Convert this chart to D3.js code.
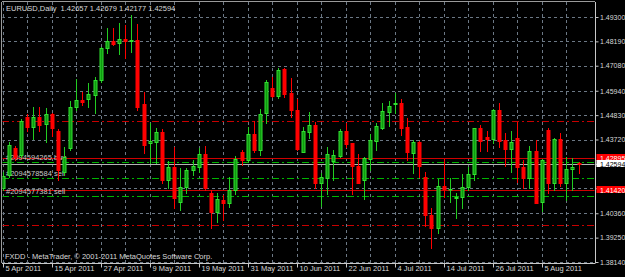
<!DOCTYPE html>
<html>
<head>
<meta charset="utf-8">
<script src="https://cdn.jsdelivr.net/npm/d3@7"></script>
<style>
  html, body { margin: 0; padding: 0; background: #000; overflow: hidden; }
  svg text { font-family: "Liberation Sans", Arial, sans-serif; font-size: 7.5px; }
  svg .paxis text, svg .pbox text { font-size: 7px; }
</style>
</head>
<body>
<div id="chart"></div>
<script>
// daily bars, 5 Apr 2011 onward (one per trading day)
var opens = [1.4151,1.4210,1.4333,1.4301,1.4474,1.4429,1.4474,1.4443,1.4488,1.4411,
  1.4224,1.4333,1.4520,1.4552,1.4556,1.4575,1.4643,1.4789,1.4822,1.4813,
  1.4829,1.4822,1.4825,1.4534,1.4355,1.4362,1.4406,1.4187,1.4247,1.4089,
  1.4156,1.4233,1.4247,1.4306,1.4128,1.4042,1.4096,1.4084,1.4142,1.4317,
  1.4279,1.4397,1.4324,1.4493,1.4608,1.4571,1.4692,1.4585,1.4506,1.4317,
  1.4408,1.4438,1.4174,1.4196,1.4276,1.4297,1.4411,1.4355,1.4251,1.4187,
  1.4282,1.4366,1.4426,1.4499,1.4532,1.4537,1.4428,1.4312,1.4362,1.4202,
  1.4028,1.3970,1.4160,1.4145,1.4104,1.4108,1.4154,1.4213,1.4423,1.4385,
  1.4373,1.4506,1.4370,1.4330,1.4378,1.4248,1.4195,1.4321,1.4089,1.4415,
  1.4173,1.4373,1.4173,1.4236,1.42657];
var highs = [1.4224,1.4361,1.4342,1.4465,1.4488,1.4520,1.4520,1.4515,1.4493,1.4420,
  1.4338,1.4547,1.4648,1.4588,1.4629,1.4657,1.4793,1.4880,1.4880,1.4903,
  1.4894,1.4939,1.4898,1.4588,1.4447,1.4424,1.4420,1.4274,1.4338,1.4242,
  1.4242,1.4279,1.4333,1.4342,1.4142,1.4128,1.4119,1.4201,1.4297,1.4324,
  1.4429,1.4456,1.4511,1.4643,1.4658,1.4698,1.4698,1.4652,1.4556,1.4429,
  1.4499,1.4452,1.4219,1.4338,1.4324,1.4420,1.4449,1.4357,1.4306,1.4292,
  1.4397,1.4449,1.4537,1.4549,1.4582,1.4556,1.4469,1.4370,1.4365,1.4225,
  1.4061,1.4193,1.4282,1.4195,1.4127,1.4215,1.4245,1.4426,1.4438,1.4412,
  1.4509,1.4537,1.4400,1.4412,1.4453,1.4279,1.4342,1.4370,1.4282,1.4423,
  1.4378,1.4400,1.4291,1.4286,1.42679];
var lows = [1.4142,1.4201,1.4279,1.4292,1.4411,1.4374,1.4411,1.4361,1.4388,1.4187,
  1.4210,1.4324,1.4506,1.4529,1.4520,1.4493,1.4634,1.4766,1.4803,1.4761,
  1.4743,1.4770,1.4506,1.4311,1.4265,1.4265,1.4174,1.4151,1.4060,1.4051,
  1.4128,1.4210,1.4224,1.4142,1.3968,1.3996,1.4005,1.4065,1.4124,1.4256,
  1.4270,1.4315,1.4301,1.4447,1.4565,1.4561,1.4565,1.4474,1.4324,1.4315,
  1.4379,1.4151,1.4069,1.4124,1.4187,1.4292,1.4338,1.4124,1.4174,1.4101,
  1.4233,1.4324,1.4421,1.4434,1.4493,1.4392,1.4279,1.4219,1.4201,1.3978,
  1.3877,1.3946,1.4110,1.4089,1.4014,1.4060,1.4142,1.4187,1.4321,1.4321,
  1.4355,1.4339,1.4251,1.4225,1.4180,1.4150,1.4150,1.4083,1.4048,1.4127,
  1.4142,1.4160,1.4096,1.4142,1.42177];
var closes = [1.4205,1.4347,1.4292,1.4456,1.4429,1.4474,1.4438,1.4488,1.4424,1.4233,
  1.4292,1.4520,1.4552,1.4545,1.4579,1.4643,1.4789,1.4821,1.4806,1.4829,
  1.4821,1.4825,1.4520,1.4347,1.4365,1.4406,1.4187,1.4247,1.4105,1.4154,
  1.4233,1.4251,1.4306,1.4151,1.4042,1.4101,1.4082,1.4142,1.4283,1.4279,
  1.4397,1.4324,1.4488,1.4634,1.4571,1.4689,1.4579,1.4506,1.4329,1.4411,
  1.4437,1.4174,1.4201,1.4306,1.4300,1.4411,1.4352,1.4251,1.4175,1.4286,
  1.4370,1.4434,1.4502,1.4525,1.4539,1.4426,1.4317,1.4361,1.4251,1.4028,
  1.3970,1.4160,1.4145,1.4148,1.4111,1.4154,1.4213,1.4423,1.4366,1.4373,
  1.4506,1.4366,1.4330,1.4362,1.4245,1.4195,1.4321,1.4084,1.4279,1.4173,
  1.4373,1.4173,1.4236,1.4248,1.42594];

var dateLabels = ["5 Apr 2011","15 Apr 2011","27 Apr 2011","9 May 2011","19 May 2011","31 May 2011",
  "10 Jun 2011","22 Jun 2011","4 Jul 2011","14 Jul 2011","26 Jul 2011","5 Aug 2011"];
var barsPerLabel = 8;
var priceTicks = [1.4930,1.4819,1.4708,1.4594,1.4483,1.4372,1.4261,1.4150,1.4036,1.3925,1.3814];
var priceLabels = ["1.49300","1.48190","1.47080","1.45940","1.44830","1.43720","","","1.40360","1.39250","1.38140"];

var bidPrice = 1.42594;
var redLevels = [1.42895, 1.41420];
var stopLevels = [1.4456, 1.3983];
var orderLevels = [1.4268, 1.4195, 1.4113];
var orderNames = ["#2094594265 buy", "#2094578584 sell", "#2094577381 sell"];
var title = "EURUSD,Daily  1.42657 1.42679 1.42177 1.42594";
var footer = "FXDD - MetaTrader, \u00a9 2001-2011 MetaQuotes Software Corp.";

var w = 625, h = 277;
var pL = 2, pT = 2, pR = 595, pB = 263;

var svg = d3.select('#chart').append('svg')
  .attr('width', w).attr('height', h);
svg.append('rect').attr('width', w).attr('height', h).attr('fill', '#000');

var bars = opens.map(function (o, i) {
  return {i: i, o: o, h: highs[i], l: lows[i], c: closes[i]};
});

var x = d3.scaleLinear().domain([0, bars.length - 1]).range([2.7, 578.5]);
var y = d3.scaleLinear().domain([1.3814, 1.4930]).range([262, 17]);
var px = function (v) { return Math.round(v) + 0.5; };

svg.append('defs').append('clipPath').attr('id', 'plotclip')
  .append('rect').attr('x', pL + 0.5).attr('y', pT).attr('width', pR - pL - 1).attr('height', pB - pT);

var plot = svg.append('g').attr('clip-path', 'url(#plotclip)');

// grid
plot.selectAll('.hgrid').data(priceTicks).enter().append('line')
  .attr('x1', pL).attr('x2', pR)
  .attr('y1', d => px(y(d))).attr('y2', d => px(y(d)))
  .attr('stroke', '#6c7885').attr('stroke-dasharray', '3,3');
var vIdx = d3.range(0, bars.length, 4);
plot.selectAll('.vgrid').data(vIdx).enter().append('line')
  .attr('x1', d => px(x(d))).attr('x2', d => px(x(d)))
  .attr('y1', pT).attr('y2', pB)
  .attr('stroke', '#6c7885').attr('stroke-dasharray', '3,3');

// levels
plot.selectAll('.stop').data(stopLevels).enter().append('line')
  .attr('x1', pL).attr('x2', pR)
  .attr('y1', d => px(y(d))).attr('y2', d => px(y(d)))
  .attr('stroke', '#c80000').attr('stroke-dasharray', '7,3,2,3');
plot.selectAll('.order').data(orderLevels).enter().append('line')
  .attr('x1', pL).attr('x2', pR)
  .attr('y1', d => px(y(d))).attr('y2', d => px(y(d)))
  .attr('stroke', '#00b400').attr('stroke-dasharray', '7,3,2,3');
plot.selectAll('.red').data(redLevels).enter().append('line')
  .attr('x1', pL).attr('x2', pR)
  .attr('y1', d => px(y(d))).attr('y2', d => px(y(d)))
  .attr('stroke', '#d00000');
plot.append('line')
  .attr('x1', pL).attr('x2', pR)
  .attr('y1', px(y(bidPrice))).attr('y2', px(y(bidPrice)))
  .attr('stroke', '#b4b4b4');

plot.selectAll('.oname').data(orderLevels).enter().append('text')
  .attr('x', 6).attr('y', d => y(d) - 2)
  .attr('fill', '#c8c8c8')
  .text((d, i) => orderNames[i]);

// candles
var candle = plot.selectAll('.bar').data(bars).enter().append('g');
candle.append('line')
  .attr('x1', d => px(x(d.i))).attr('x2', d => px(x(d.i)))
  .attr('y1', d => Math.round(y(d.h))).attr('y2', d => Math.round(y(d.l)) + 1)
  .attr('stroke', d => d.c >= d.o ? '#22cc22' : '#ff0000');
candle.append('rect')
  .attr('x', d => px(x(d.i)) - 1.5)
  .attr('y', d => Math.round(y(Math.max(d.o, d.c))) + 0.5)
  .attr('width', 3)
  .attr('height', d => Math.max(0.5, Math.round(y(Math.min(d.o, d.c))) - Math.round(y(Math.max(d.o, d.c)))))
  .attr('fill', d => d.c >= d.o ? '#109a10' : '#ff0000')
  .attr('stroke', d => d.c >= d.o ? '#30e030' : '#ff0000');

// frame
svg.append('line').attr('x1', pL - 0.5).attr('x2', pL - 0.5).attr('y1', pT).attr('y2', pB)
  .attr('stroke', '#9a9a9a');
svg.append('line').attr('x1', pL).attr('x2', pR).attr('y1', pT - 0.5).attr('y2', pT - 0.5)
  .attr('stroke', '#9a9a9a');

// price axis
var yAxis = d3.axisRight(y).tickValues(priceTicks).tickFormat((d, i) => priceLabels[i])
  .tickSize(3).tickPadding(1.5);
var ya = svg.append('g').attr('class', 'paxis').attr('transform', 'translate(' + (pR + 0.5) + ',0)').call(yAxis);
ya.select('.domain').attr('stroke', '#c8c8c8').attr('d', 'M0,' + pT + 'V' + pB);
ya.selectAll('.tick line').attr('stroke', '#c8c8c8');
ya.selectAll('.tick text').attr('fill', '#d8d8d8').attr('font-family', null).attr('font-size', null);

// time axis
var tickIdx = dateLabels.map((d, i) => i * barsPerLabel);
var xAxis = d3.axisBottom(x).tickValues(tickIdx)
  .tickFormat((d, i) => dateLabels[i]).tickSize(4).tickPadding(0);
var xa = svg.append('g').attr('transform', 'translate(0,' + (pB + 0.5) + ')').call(xAxis);
xa.select('.domain').attr('stroke', '#c8c8c8').attr('d', 'M' + pL + ',0H' + (pR + 0.5));
xa.selectAll('.tick').attr('transform', d => 'translate(' + px(x(d)) + ',0)');
xa.selectAll('.tick line').attr('stroke', '#c8c8c8');
xa.selectAll('.tick text').attr('fill', '#d8d8d8').attr('font-family', null).attr('font-size', null)
  .attr('text-anchor', 'start').attr('x', 2).attr('y', 2).attr('dy', '0.71em');

// price boxes
var boxes = [
  {v: redLevels[0], bg: '#ff0000', fg: '#ffffff'},
  {v: redLevels[1], bg: '#ff0000', fg: '#ffffff'},
  {v: bidPrice, bg: '#ffffff', fg: '#000000'}
];
var box = svg.selectAll('.pbox').data(boxes).enter().append('g').attr('class', 'pbox');
box.append('rect')
  .attr('x', pR + 1.5).attr('y', d => Math.round(y(d.v)) - 4)
  .attr('width', w - pR).attr('height', 7)
  .attr('fill', d => d.bg);
box.append('text')
  .attr('x', pR + 5).attr('y', d => Math.round(y(d.v)) + 2.5)
  .attr('fill', d => d.fg)
  .text(d => d3.format('.5f')(d.v));

// title & footer
svg.append('text').attr('x', 6).attr('y', 10.5).attr('fill', '#d8d8d8')
  .style('white-space', 'pre').text(title);
svg.append('text').attr('x', 5).attr('y', 259).attr('fill', '#d8d8d8').text(footer);
</script>
</body>
</html>
